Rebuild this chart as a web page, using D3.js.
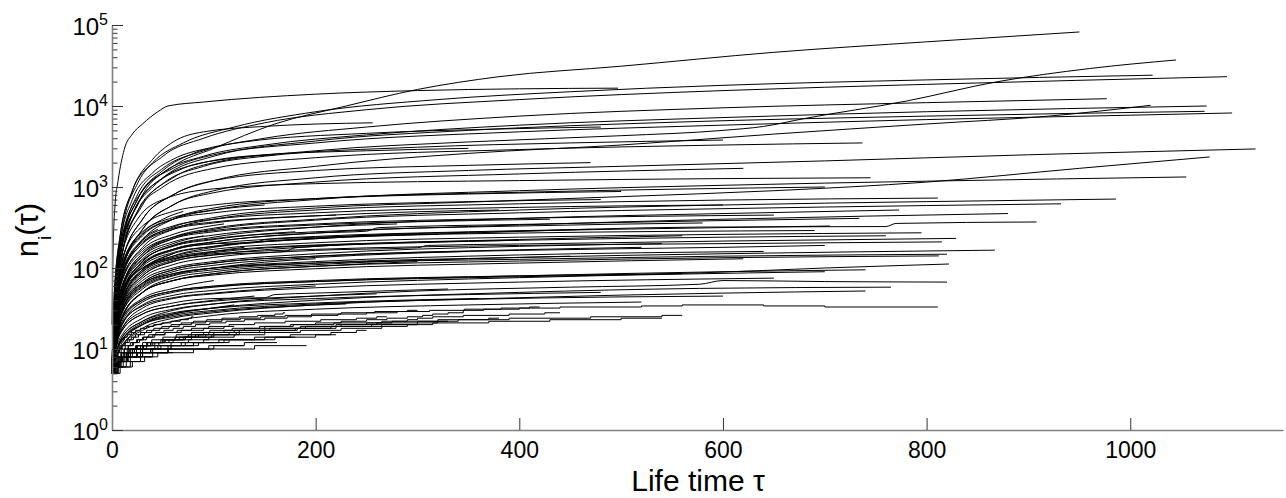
<!DOCTYPE html>
<html>
<head>
<meta charset="utf-8">
<script src="https://cdn.jsdelivr.net/npm/d3@7"></script>
<style>
  html, body { margin: 0; padding: 0; background: #fff; }
  svg { display: block; font-family: "Liberation Sans", Arial, Helvetica, sans-serif; }
</style>
</head>
<body>
<svg id="chart" width="1286" height="498"></svg>
<script>
// Axis ticks
const xTicks = [0, 200, 400, 600, 800, 1000];
const yExponents = [0, 1, 2, 3, 4, 5];
const yMinorMultipliers = [2, 3, 4, 5, 6, 7, 8, 9];

// Trajectories n_i(tau): each a list of [tau, n] samples.
// Large communities (smooth growth)
const t01 = [[0,6],[2,20],[6,90],[15,300],[30,800],[60,1800],[100,3000],[160,6000],[230,10000],[300,16000],[380,23000],[500,31000],[650,46000],[800,62000],[950,82000]];
const t02 = [[0,20],[1,150],[3,600],[6,1200],[12,2900],[20,4500],[30,6000],[45,8500],[55,10000],[90,11200],[200,14000],[300,15500],[400,16300],[497,16600]];
const t03 = [[0,5],[3,40],[10,150],[30,600],[60,1300],[100,2000],[200,2800],[350,3600],[500,4300],[600,5000],[640,5600],[680,7000],[780,11500],[870,20000],[960,29000],[1045,37000]];
const t04 = [[0,6],[2,40],[8,250],[20,900],[40,2000],[70,3500],[120,5500],[200,8500],[320,12000],[450,15000],[600,18000],[800,21000],[1022,24000]];
const t05 = [[0,5],[3,50],[10,300],[25,1100],[50,2400],[90,4000],[150,6200],[250,9000],[400,12000],[600,15500],[800,18500],[1095,23000]];
const t06 = [[0,5],[3,30],[10,200],[25,800],[50,1700],[90,2800],[150,4000],[250,5500],[400,7500],[600,9500],[800,11000],[977,12300]];
const t07 = [[0,6],[2,30],[8,180],[25,700],[50,1500],[90,2400],[150,3300],[250,4400],[400,5800],[600,7200],[800,8500],[1075,10000]];
const t08 = [[0,5],[3,30],[10,120],[30,400],[60,800],[100,1200],[200,1800],[350,2600],[500,3300],[650,4500],[800,6000],[920,7500],[1020,10200]];
const t09 = [[0,5],[2,25],[8,150],[25,600],[50,1300],[100,2400],[200,3700],[350,5000],[550,6300],[800,7500],[1073,8600]];
const t10 = [[0,7],[3,50],[10,250],[30,900],[60,1700],[100,2500],[200,3500],[400,4800],[600,5800],[800,6800],[1000,7700],[1100,8200]];
const t11 = [[0,5],[3,30],[10,150],[25,500],[50,1000],[100,1700],[200,2300],[400,2900],[600,3300],[737,3500]];
const t12 = [[0,5],[3,20],[10,90],[30,300],[60,600],[100,900],[200,1300],[350,1600],[500,1800],[700,2100],[900,2500],[1123,2950]];
const t13 = [[0,5],[3,25],[10,80],[30,200],[60,320],[100,420],[200,550],[350,650],[500,760],[650,900],[800,1150],[950,1700],[1078,2350]];
const t14 = [[0,6],[3,30],[10,100],[30,250],[60,400],[100,520],[200,700],[400,900],[600,1050],[800,1180],[1055,1330]];
const t15 = [[0,5],[2,25],[8,120],[25,400],[50,700],[100,950],[200,1100],[400,1200],[600,1270],[745,1300]];
const t16 = [[0,5],[3,20],[10,70],[30,180],[60,300],[100,400],[200,520],[400,620],[600,690],[811,730]];
const t17 = [[0,6],[2,40],[8,250],[20,900],[40,2200],[60,3600],[90,4800],[150,5600],[256,6200]];
const t18 = [[0,5],[3,40],[10,200],[25,700],[50,1600],[80,2600],[130,3600],[250,4600],[380,5200],[480,5500]];
const t19 = [[0,5],[3,30],[10,150],[25,500],[50,1100],[90,1800],[150,2400],[300,3100],[450,3500],[600,3800]];
const t20 = [[0,5],[2,30],[8,160],[25,600],[50,1300],[90,2000],[150,2500],[250,2800],[350,3000]];
const t21 = [[0,6],[3,30],[10,120],[30,400],[60,800],[100,1200],[200,1600],[350,1850],[470,2000]];
const t22 = [[0,5],[2,30],[8,140],[20,450],[40,1000],[70,1700],[110,2200],[160,2500]];
const t23 = [[0,6],[2,40],[8,200],[20,700],[40,1500],[60,2200],[95,3000]];
const t24 = [[0,5],[3,25],[10,100],[30,300],[60,600],[100,850],[200,1150],[400,1450],[620,1700]];
const t25 = [[0,5],[3,20],[10,80],[30,220],[60,400],[100,550],[200,720],[400,860],[700,1000]];

// Medium communities
const m01 = [[0,5],[3,20],[10,60],[30,150],[60,240],[100,310],[200,400],[400,520],[600,600],[800,660],[986,710]];
const m02 = [[0,5],[3,18],[10,55],[30,140],[60,230],[100,300],[200,390],[400,480],[600,540],[800,590],[932,620]];
const m03 = [[0,5],[3,15],[10,40],[30,90],[60,140],[100,180],[200,230],[350,270],[577,320],[760,325],[770,355],[908,370]];
const m04 = [[0,5],[3,20],[10,50],[30,100],[60,140],[100,170],[200,205],[400,240],[600,260],[795,272]];
const m05 = [[0,5],[3,14],[10,35],[30,75],[60,110],[100,135],[200,165],[300,178],[310,190],[400,198],[600,215],[829,232]];
const m06 = [[0,6],[3,22],[10,55],[30,100],[60,130],[100,150],[200,170],[400,190],[600,200],[815,210]];
const m07 = [[0,5],[3,12],[10,28],[30,55],[60,80],[100,95],[200,115],[400,135],[600,150],[867,166]];
const m08 = [[0,5],[3,15],[10,35],[30,65],[60,85],[100,100],[200,115],[400,128],[600,140],[820,148]];
const m09 = [[0,5],[3,10],[10,25],[30,50],[60,70],[100,85],[200,105],[400,122],[600,134],[812,141]];
const m10 = [[0,5],[3,10],[10,22],[30,40],[60,52],[100,60],[200,70],[400,80],[577,87],[700,100],[822,112]];
const m11 = [[0,5],[3,18],[10,50],[30,120],[60,190],[100,240],[200,320],[400,410],[600,470],[773,520]];
const m12 = [[0,5],[3,16],[10,45],[30,110],[60,170],[100,210],[200,270],[250,285],[262,315],[400,345],[600,385],[734,410]];
const m13 = [[0,5],[3,15],[10,40],[30,95],[60,150],[100,185],[200,235],[400,285],[600,315],[705,330]];
const m14 = [[0,6],[3,22],[10,70],[30,160],[60,240],[100,290],[200,350],[400,410],[650,450]];
const m15 = [[0,5],[3,25],[10,90],[30,220],[60,330],[100,400],[200,480],[400,560],[600,600]];
const m16 = [[0,5],[3,14],[10,38],[30,80],[60,120],[100,145],[200,185],[400,225],[560,250]];
const m17 = [[0,5],[3,12],[10,30],[30,65],[60,95],[100,115],[200,140],[400,168],[520,180]];
const m18 = [[0,6],[3,30],[10,100],[30,260],[60,400],[100,480],[200,580],[350,660],[480,700]];
const m19 = [[0,5],[3,18],[10,48],[30,110],[60,165],[100,200],[140,205],[150,225],[200,245],[350,280],[470,300]];
const m20 = [[0,5],[3,10],[10,24],[30,50],[60,75],[100,90],[200,110],[350,130],[450,140]];
const m21 = [[0,5],[3,20],[10,60],[30,150],[60,230],[100,280],[200,340],[330,380],[430,400]];
const m22 = [[0,5],[3,13],[10,36],[30,80],[60,120],[100,145],[170,160],[180,178],[300,205],[400,220]];
const m23 = [[0,6],[3,26],[10,80],[30,200],[60,300],[100,360],[200,440],[300,495],[380,520]];
const m24 = [[0,5],[3,12],[10,30],[30,62],[60,90],[100,108],[200,135],[280,150],[350,160]];
const m25 = [[0,5],[3,15],[10,45],[30,105],[60,155],[100,185],[200,230],[320,260]];
const m26 = [[0,5],[3,11],[10,25],[30,50],[60,70],[100,85],[200,105],[300,120]];
const m27 = [[0,5],[3,20],[10,60],[30,140],[60,210],[100,255],[200,320],[280,350]];
const m28 = [[0,6],[3,18],[10,45],[30,95],[60,135],[100,160],[180,188],[250,200]];
const m29 = [[0,5],[3,25],[10,85],[30,210],[60,310],[100,370],[160,420],[220,450]];
const m30 = [[0,5],[3,11],[10,28],[30,58],[60,82],[100,100],[150,118],[200,130]];
const m31 = [[0,5],[3,18],[10,55],[30,125],[60,185],[100,225],[140,258],[180,280]];
const m32 = [[0,6],[3,30],[10,110],[30,280],[60,420],[100,520],[150,600]];
const m33 = [[0,5],[3,13],[10,38],[30,85],[60,125],[100,160],[130,180]];
const m34 = [[0,5],[3,22],[10,75],[30,170],[60,260],[90,320],[110,350]];
const m35 = [[0,6],[3,20],[10,60],[30,130],[60,200],[90,250]];
const m36 = [[0,5],[3,30],[10,110],[30,270],[50,400],[70,500]];
const m37 = [[0,5],[3,14],[10,40],[30,95],[45,125],[60,150]];
const m38 = [[0,6],[3,25],[10,80],[25,190],[45,300]];
const m39 = [[0,5],[3,14],[10,32],[30,65],[60,95],[100,115],[200,140],[400,165],[600,180],[700,190]];
const m40 = [[0,5],[3,10],[10,25],[30,50],[60,70],[100,82],[200,98],[400,115],[620,130]];
const m41 = [[0,5],[3,9],[10,20],[30,38],[60,50],[100,58],[200,68],[400,80],[600,90],[740,95]];
const m42 = [[0,5],[3,16],[10,45],[30,110],[60,170],[100,210],[200,270],[400,340],[600,400],[880,470]];
const m43 = [[0,5],[3,17],[10,50],[30,115],[60,170],[100,200],[200,240],[400,270],[690,290]];
const m44 = [[0,6],[3,16],[10,42],[30,90],[60,130],[100,155],[200,190],[400,220],[600,240],[760,250]];
const m45 = [[0,5],[3,15],[10,48],[30,120],[60,190],[100,230],[200,280],[400,330],[580,360]];
const m46 = [[0,5],[3,13],[10,33],[30,70],[60,100],[100,120],[200,150],[400,185],[540,200]];
const m47 = [[0,5],[3,12],[10,30],[30,60],[60,85],[100,100],[200,120],[400,145],[640,160]];
const m48 = [[0,6],[3,35],[10,130],[30,330],[60,500],[100,600],[200,720],[350,820],[500,880]];

// Small communities, smooth
const s01 = [[0,5],[3,8],[10,14],[30,22],[60,30],[100,36],[200,45],[300,52],[450,58],[577,63],[600,70],[700,68],[820,67]];
const s02 = [[0,5],[3,7],[10,12],[30,20],[60,27],[100,32],[200,40],[400,50],[577,56],[765,58]];
const s03 = [[0,5],[3,8],[10,13],[30,20],[60,26],[100,30],[200,36],[350,41],[500,44],[600,45]];
const s04 = [[0,5],[3,7],[10,11],[30,17],[60,22],[100,26],[200,31],[350,35],[520,38]];
const s05 = [[0,5],[3,9],[10,15],[30,24],[60,31],[100,36],[200,42],[350,47],[480,50]];
const s06 = [[0,5],[3,8],[10,14],[30,22],[60,28],[100,32],[200,37],[360,42]];
const s07 = [[0,5],[3,10],[10,18],[30,29],[60,37],[100,42],[150,43],[160,47],[200,49],[330,55]];
const s08 = [[0,6],[3,10],[10,17],[30,27],[60,34],[100,39],[180,44],[260,48]];
const s09 = [[0,5],[3,8],[10,13],[30,20],[60,25],[100,29],[160,33],[230,36]];
const s10 = [[0,5],[3,11],[10,21],[30,34],[60,43],[100,49],[150,55],[200,60]];
const s11 = [[0,6],[3,10],[10,17],[30,27],[60,34],[100,40],[140,45]];
const s12 = [[0,5],[3,8],[10,13],[30,21],[60,27],[90,31],[120,35]];
const s13 = [[0,5],[3,12],[10,24],[30,42],[60,56],[100,70]];
const s14 = [[0,5],[3,9],[10,18],[30,32],[60,42],[100,48],[200,57],[400,67],[650,75]];
const s15 = [[0,5],[3,10],[10,20],[30,35],[60,46],[100,53],[200,63],[400,76],[700,90]];
const s16 = [[0,6],[3,12],[10,24],[30,40],[60,52],[100,59],[200,68],[400,78],[560,85]];
const s17 = [[0,5],[3,7],[10,11],[30,18],[60,24],[100,28],[200,35],[400,43],[600,49],[740,52]];

// Small communities, unit steps
const u01 = [[0,5],[2,6],[5,7],[9,8],[14,9],[20,10],[28,11],[38,12],[50,13],[62,14],[75,15],[90,16],[110,17],[130,18],[150,19],[175,20],[200,21],[225,22],[250,23],[270,24],[290,25],[305,26],[315,27],[330,28],[345,30],[365,31],[400,32],[440,33],[520,34],[560,35],[640,34],[700,33],[811,33]];
const u02 = [[0,5],[2,6],[6,7],[15,8],[40,9],[80,10],[140,11],[191,11]];
const u03 = [[0,6],[3,7],[10,8],[28,9],[55,10],[100,11],[129,11]];
const u04 = [[0,5],[2,6],[5,7],[10,8],[18,9],[28,10],[45,11],[68,12],[90,13],[114,13]];
const u05 = [[0,5],[3,6],[8,7],[16,8],[30,9],[55,10],[95,11],[130,12],[162,12]];
const u06 = [[0,5],[2,6],[4,7],[8,8],[12,9],[18,10],[25,11],[35,12],[48,13],[62,14],[78,15],[95,16],[120,17],[150,18],[185,19],[220,20],[250,21],[275,22],[290,23],[300,24],[315,25],[345,26],[390,27],[425,28],[440,28]];
const u07 = [[0,5],[5,6],[9,7],[14,8],[20,9],[30,10],[42,11],[58,12],[75,13],[95,14],[120,15],[150,16],[185,17],[225,18],[265,19],[290,20],[300,20]];
const u08 = [[0,5],[6,6],[11,7],[18,8],[28,9],[40,10],[58,11],[80,12],[105,13],[140,14],[175,15],[215,16],[240,17],[250,17]];
const u09 = [[0,5],[3,6],[8,7],[15,8],[25,9],[38,10],[55,11],[80,12],[115,13],[160,14],[200,15],[220,15]];
const u10 = [[0,6],[3,7],[9,8],[18,9],[30,10],[48,11],[72,12],[110,13],[150,14],[180,14]];
const u11 = [[0,5],[2,6],[4,7],[7,8],[11,9],[16,10],[24,11],[34,12],[50,13],[72,14],[100,15],[125,16],[140,16]];
const u12 = [[0,5],[3,6],[7,7],[14,8],[24,9],[38,10],[58,11],[85,12],[100,12]];
const u13 = [[0,6],[4,7],[12,8],[30,9],[55,10],[80,10]];
const u14 = [[0,5],[5,6],[14,7],[28,8],[45,9],[60,9]];
const u15 = [[0,5],[4,6],[7,7],[11,8],[16,9],[22,10],[30,11],[40,12],[52,13],[66,14],[82,15],[100,16],[125,17],[155,18],[190,19],[225,20],[260,21],[300,22],[340,23],[370,24],[380,24]];
const u16 = [[0,5],[3,6],[6,7],[10,8],[15,9],[22,10],[31,11],[42,12],[56,13],[72,14],[92,15],[115,16],[145,17],[180,18],[215,19],[255,20],[300,21],[320,22],[330,22]];
const u17 = [[0,5],[2,6],[4,7],[6,8],[9,9],[12,10],[16,11],[21,12],[27,13],[34,14],[42,15],[52,16],[64,17],[78,18],[95,19],[115,20],[140,21],[170,22],[205,23],[240,24],[260,25],[270,25]];
const u18 = [[0,6],[2,7],[4,8],[6,9],[9,10],[13,11],[18,12],[24,13],[31,14],[40,15],[52,16],[68,17],[90,18],[110,19],[120,19]];
const u19 = [[0,5],[2,6],[5,7],[9,8],[14,9],[20,10],[28,11],[38,12],[52,13],[70,14],[85,15],[90,15]];
const u20 = [[0,6],[2,7],[5,8],[9,9],[15,10],[24,11],[38,12],[50,12]];
const u21 = [[0,5],[6,6],[18,7],[32,8],[40,8]];
const u22 = [[0,5],[8,6],[20,7],[30,7]];
const u23 = [[0,5],[2,6],[4,7],[6,8],[9,9],[12,10],[16,11],[20,12],[25,13],[30,14],[36,15],[43,16],[51,17],[60,18],[70,19],[82,20],[96,21],[112,22],[130,23],[150,24],[172,25],[196,26],[222,27],[250,28],[280,29],[312,30],[346,31],[382,32],[410,33],[420,33]];
const u24 = [[0,6],[2,7],[3,8],[5,9],[7,10],[10,11],[13,12],[17,13],[21,14],[26,15],[32,16],[39,17],[47,18],[56,19],[66,20],[78,21],[92,22],[108,23],[126,24],[146,25],[170,26],[196,27],[225,28],[258,29],[290,30],[300,30]];
const u25 = [[0,5],[1,6],[2,7],[3,8],[5,9],[7,10],[9,11],[12,12],[15,13],[19,14],[23,15],[28,16],[34,17],[41,18],[49,19],[58,20],[68,21],[80,22],[93,23],[108,24],[125,25],[143,26],[160,27],[168,28],[170,28]];
const u26 = [[0,5],[1,6],[2,7],[3,9],[5,10],[7,12],[9,13],[12,14],[15,15],[19,16],[23,17],[28,18],[34,19],[41,20],[49,21],[58,22],[67,23],[75,24],[78,25],[80,25]];
const u27 = [[0,5],[3,6],[6,7],[10,8],[16,9],[24,10],[34,11],[46,12],[60,13],[78,14],[98,15],[122,16],[150,17],[182,18],[220,19],[265,20],[315,21],[370,22],[430,23],[500,24],[540,24]];
const u28 = [[0,5],[2,6],[5,7],[8,8],[12,9],[17,10],[23,11],[30,12],[39,13],[50,14],[63,15],[78,16],[96,17],[118,18],[145,19],[178,20],[218,21],[265,22],[320,23],[390,24],[470,25],[540,26],[560,26]];

const smoothRuns = [
  t01,t02,t03,t04,t05,t06,t07,t08,t09,t10,t11,t12,t13,t14,t15,t16,t17,t18,t19,t20,t21,t22,t23,t24,t25,
  m01,m02,m03,m04,m05,m06,m07,m08,m09,m10,m11,m12,m13,m14,m15,m16,m17,m18,m19,m20,m21,m22,m23,m24,
  m25,m26,m27,m28,m29,m30,m31,m32,m33,m34,m35,m36,m37,m38,m39,m40,m41,m42,m43,m44,m45,m46,m47,m48,
  s01,s02,s03,s04,s05,s06,s07,s08,s09,s10,s11,s12,s13,s14,s15,s16,s17
];
const stepRuns = [
  u01,u02,u03,u04,u05,u06,u07,u08,u09,u10,u11,u12,u13,u14,u15,u16,u17,u18,u19,u20,u21,u22,u23,u24,u25,u26,u27,u28
];

const svg = d3.select("#chart");
const x = d3.scaleLinear().domain([0, 1150]).range([112, 1283]);
const y = d3.scaleLog().domain([1, 1e5]).range([430, 25]);

const smoothLine = d3.line().x(d => x(d[0])).y(d => y(d[1])).curve(d3.curveMonotoneX);
const stepLine = d3.line().x(d => x(d[0])).y(d => y(d[1])).curve(d3.curveStepAfter);

const plot = svg.append("g").attr("fill", "none").attr("stroke", "#000").attr("stroke-width", 1);
plot.selectAll("path.smooth").data(smoothRuns).join("path").attr("class", "smooth").attr("d", smoothLine);
plot.selectAll("path.step").data(stepRuns).join("path").attr("class", "step").attr("d", stepLine);

// x axis: inward ticks
const xAxis = d3.axisBottom(x).tickValues(xTicks).tickFormat(d3.format("d"))
  .tickSizeInner(-12).tickSizeOuter(0).tickPadding(12);
const gx = svg.append("g").attr("transform", "translate(0,430)").call(xAxis);
gx.selectAll("text").attr("font-size", 23).attr("fill", "#000").attr("font-family", "Liberation Sans, Arial, sans-serif");

// y axis: log scale, major decades with labels, minor ticks inward
const majorVals = yExponents.map(e => Math.pow(10, e));
const minorVals = [];
yExponents.slice(0, -1).forEach(e => yMinorMultipliers.forEach(m => minorVals.push(m * Math.pow(10, e))));

const gyMinor = svg.append("g").attr("transform", "translate(112,0)")
  .call(d3.axisLeft(y).tickValues(minorVals).tickSizeInner(-5.5).tickSizeOuter(0).tickFormat(() => ""));
gyMinor.select(".domain").remove();

const gy = svg.append("g").attr("transform", "translate(112,0)")
  .call(d3.axisLeft(y).tickValues(majorVals).tickSizeInner(-11).tickSizeOuter(0).tickPadding(4).tickFormat(() => ""));
gy.selectAll(".tick text").each(function(d) {
  const t = d3.select(this);
  t.attr("dy", "0.4em").attr("font-size", 24).attr("fill", "#000").attr("font-family", "Liberation Sans, Arial, sans-serif");
  t.append("tspan").text("10");
  t.append("tspan").attr("dy", -10).attr("font-size", 16).text(Math.round(Math.log10(d)));
});

svg.selectAll(".domain").attr("stroke", "#808080").attr("stroke-width", 1.6);
svg.selectAll(".tick line").attr("stroke", "#333").attr("stroke-width", 1);

// axis titles
svg.append("text")
  .attr("x", 698).attr("y", 491)
  .attr("text-anchor", "middle").attr("font-size", 30).attr("fill", "#000")
  .text("Life time τ");

const yTitle = svg.append("text")
  .attr("transform", "translate(38,230) rotate(-90)")
  .attr("text-anchor", "middle").attr("font-size", 31).attr("fill", "#000");
yTitle.append("tspan").text("n");
yTitle.append("tspan").attr("font-size", 19).attr("dy", 13).text("i");
yTitle.append("tspan").attr("dy", -13).text("(τ)");
</script>
</body>
</html>
